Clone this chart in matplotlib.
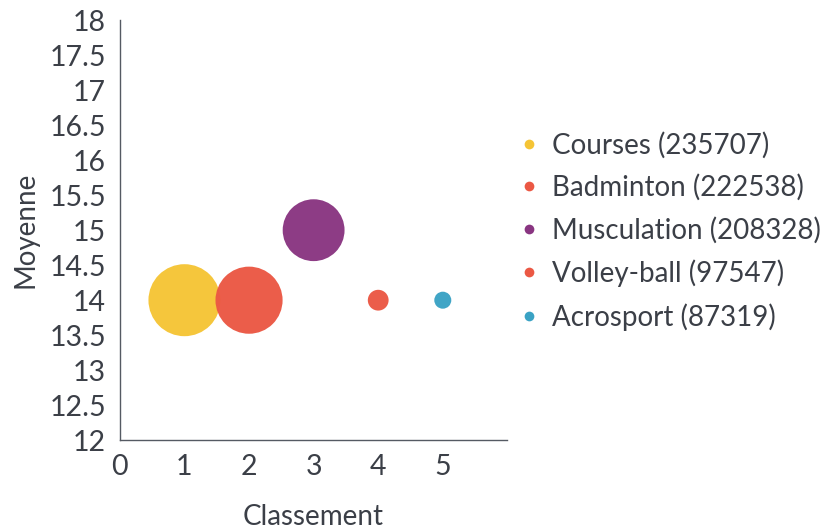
import matplotlib
matplotlib.use("Agg")
import matplotlib.pyplot as plt
from matplotlib.lines import Line2D
import numpy as np

# Data
sports = ["Courses", "Badminton", "Musculation", "Volley-ball", "Acrosport"]
counts = [235707, 222538, 208328, 97547, 87319]
classement = [1, 2, 3, 4, 5]
moyenne = [14, 14, 15, 14, 14]
colors = ["#F5C435", "#EB5844", "#893581", "#EB5844", "#3AA2C4"]

x_ticks = [0, 1, 2, 3, 4, 5]
y_ticks = [12, 12.5, 13, 13.5, 14, 14.5, 15, 15.5, 16, 16.5, 17, 17.5, 18]

plt.rcParams['font.family'] = ['Lato', 'DejaVu Sans']
text_color = "#3b3f47"

DPI = 100
fig = plt.figure(figsize=(8.21, 5.31), dpi=DPI)
ax = fig.add_axes([0.146, 0.171, 0.472, 0.791])

# bubble radius (px) linear in count
r_min, r_max = 8.5, 36.0
cmin, cmax = min(counts), max(counts)
radii = [r_min + (c - cmin) / (cmax - cmin) * (r_max - r_min) for c in counts]
sizes = [(2 * r * 72 / DPI) ** 2 for r in radii]

for x, y, s, col in zip(classement, moyenne, sizes, colors):
    ax.scatter([x], [y], s=s, color=col, alpha=0.97, edgecolors='none', zorder=3)

ax.set_xlim(0, 6)
ax.set_ylim(12, 18)
ax.set_xticks(x_ticks)
ax.set_yticks(y_ticks)
ax.set_yticklabels([f"{v:g}" for v in y_ticks])
ax.tick_params(axis='both', length=0, labelsize=20.5, colors=text_color)
ax.tick_params(axis='y', pad=10)
ax.tick_params(axis='x', pad=10)
for sp in ["top", "right"]:
    ax.spines[sp].set_visible(False)
for sp in ["left", "bottom"]:
    ax.spines[sp].set_color("#555a63")
    ax.spines[sp].set_linewidth(1.0)

ax.set_xlabel("Classement", fontsize=20, color=text_color, labelpad=17)
ax.set_ylabel("Moyenne", fontsize=20, color=text_color, labelpad=8)

handles = [Line2D([0], [0], marker='o', linestyle='none', markersize=7,
                  markerfacecolor=c, markeredgecolor='none') for c in colors]
labels = [f"{n} ({c})" for n, c in zip(sports, counts)]
leg = fig.legend(handles, labels, loc='center left', bbox_to_anchor=(0.627, 0.565),
                 frameon=False, fontsize=20, labelspacing=0.57, handletextpad=0.35,
                 handlelength=1.0, borderaxespad=0, borderpad=0)
for t in leg.get_texts():
    t.set_color(text_color)

fig.savefig("out.png", dpi=DPI)
